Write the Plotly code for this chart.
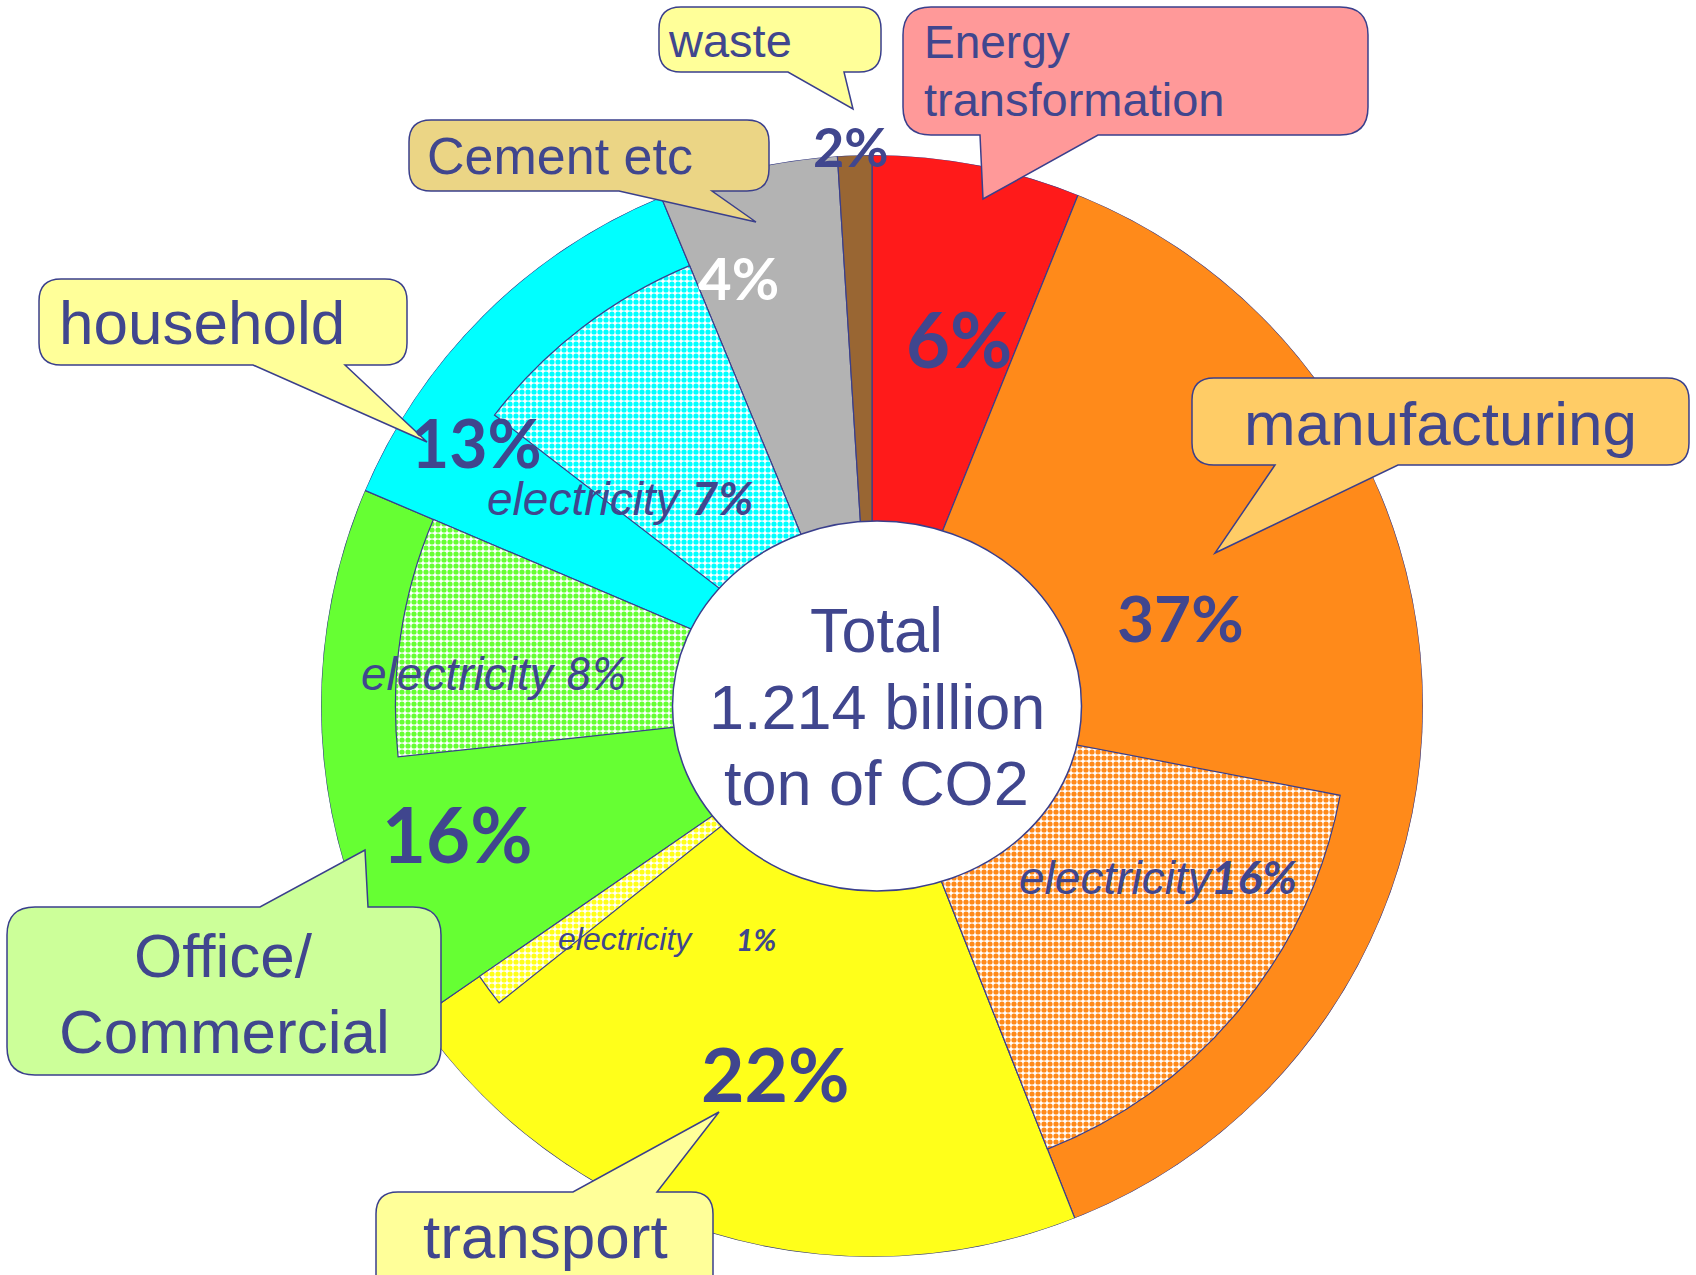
import numpy as np
import plotly.graph_objects as go

W, H = 1696, 1275

# ---------------- data ----------------
sectors = ["Energy transformation", "manufacturing", "transport",
           "Office/Commercial", "household", "Cement etc", "waste"]
share = [6.1, 37.9, 21.4, 16.0, 12.35, 5.25, 1.0]          # drawn share of each sector (%)
share_labels = ["6%", "37%", "22%", "16%", "13%", "4%", "2%"]

elec_parent = ["manufacturing", "transport", "Office/Commercial", "household"]
elec_share = [16.0, 1.1, 8.1, 8.3]                          # electricity part of the sector (%)
elec_labels = ["16%", "1%", "8%", "7%"]

total_lines = ["Total", "1.214 billion", "ton of CO2"]

# ---------------- styles ----------------
NAVY = "#40468E"
EDGE = "#3A3F8C"
colors = {
    "Energy transformation": "#FF1A1A",
    "manufacturing": "#FF8A1A",
    "transport": "#FFFF1A",
    "Office/Commercial": "#66FF33",
    "household": "#00FFFF",
    "Cement etc": "#B3B3B3",
    "waste": "#996633",
}
ELEC_R = 0.865
CX, CY, R = 872, 706, 551          # pie centre / radius in px

def px(x, y):
    return x / W, 1 - y / H

# ---------------- geometry from data ----------------
share_a = np.array(share)
ends = np.cumsum(share_a)
starts = ends - share_a
theta = (starts + ends) / 2 * 3.6
width = share_a * 3.6
end_of = dict(zip(sectors, ends))

fig = go.Figure()
fig.add_trace(go.Barpolar(
    r=[1.0] * len(sectors), theta=theta, width=width, base=0,
    marker=dict(color=[colors[s] for s in sectors], line=dict(color=EDGE, width=1.2)),
    hoverinfo="skip", showlegend=False))

for p, es in zip(elec_parent, elec_share):
    e = end_of[p]
    fig.add_trace(go.Barpolar(
        r=[ELEC_R], theta=[(e - es / 2) * 3.6], width=[es * 3.6], base=0,
        marker=dict(color="white",
                    pattern=dict(shape=".", fgcolor=colors[p], bgcolor="white",
                                 size=6, solidity=0.6, fillmode="replace"),
                    line=dict(color=EDGE, width=1.2)),
        hoverinfo="skip", showlegend=False))

x0, y1 = px(CX - R, CY - R)
x1, y0 = px(CX + R, CY + R)

fig.update_layout(
    width=W, height=H, margin=dict(l=0, r=0, t=0, b=0),
    paper_bgcolor="white", plot_bgcolor="white", showlegend=False,
    polar=dict(
        domain=dict(x=[x0, x1], y=[y0, y1]),
        bgcolor="rgba(0,0,0,0)", barmode="overlay",
        radialaxis=dict(visible=False, range=[0, 1]),
        angularaxis=dict(visible=False, rotation=90, direction="clockwise"),
    ),
)

# ---------------- centre ellipse ----------------
ex0, ey1 = px(877 - 204.5, 706 - 185)
ex1, ey0 = px(877 + 204.5, 706 + 185)
shapes = [dict(type="circle", xref="paper", yref="paper", x0=ex0, x1=ex1, y0=ey0, y1=ey1,
               fillcolor="white", line=dict(color=EDGE, width=1.5), layer="above")]

# ---------------- callout bubbles ----------------
def bubble(bx0, by0, bx1, by1, side, b0, b1, tip, fill, r=22):
    def P(x, y):
        X, Y = px(x, y)
        return f"{X:.5f},{Y:.5f}"
    d = f"M {P(bx0 + r, by0)}"
    if side == "top":
        d += f" L {P(b0, by0)} L {P(*tip)} L {P(b1, by0)}"
    d += f" L {P(bx1 - r, by0)} Q {P(bx1, by0)} {P(bx1, by0 + r)}"
    d += f" L {P(bx1, by1 - r)} Q {P(bx1, by1)} {P(bx1 - r, by1)}"
    if side == "bottom":
        d += f" L {P(b1, by1)} L {P(*tip)} L {P(b0, by1)}"
    d += f" L {P(bx0 + r, by1)} Q {P(bx0, by1)} {P(bx0, by1 - r)}"
    d += f" L {P(bx0, by0 + r)} Q {P(bx0, by0)} {P(bx0 + r, by0)} Z"
    return dict(type="path", xref="paper", yref="paper", path=d, fillcolor=fill,
                line=dict(color=EDGE, width=1.5), layer="above")

shapes += [
    bubble(659, 7, 881, 72, "bottom", 788, 844, (853, 109), "#FFFF99"),
    bubble(903, 7, 1368, 135, "bottom", 980, 1098, (983, 199), "#FF9999", r=28),
    bubble(409, 120, 769, 191, "bottom", 619, 712, (756, 222), "#EBD585"),
    bubble(39, 279, 407, 365, "bottom", 253, 345, (427, 442), "#FFFF99"),
    bubble(1192, 378, 1689, 465, "bottom", 1275, 1398, (1215, 553), "#FFCC66"),
    bubble(7, 907, 441, 1075, "top", 260, 368, (365, 850), "#CCFF99", r=28),
    bubble(376, 1192, 713, 1300, "top", 573, 657, (719, 1112), "#FFFF99"),
]

# ---------------- text ----------------
anns = []
def ann(text, x, y, size, color=NAVY, family="Liberation Sans", xanchor="center"):
    X, Y = px(x, y)
    anns.append(dict(text=text, x=X, y=Y, xref="paper", yref="paper", showarrow=False,
                     xanchor=xanchor, yanchor="middle",
                     font=dict(size=size, color=color, family=family)))

# bubble labels
ann("waste", 730, 40, 47)
ann("Energy", 922, 42, 46, xanchor="left")
ann("transformation", 922, 100, 47, xanchor="left")
ann("Cement etc", 560, 156, 52)
ann("household", 202, 322, 62)
ann("manufacturing", 1440, 424, 62)
ann("Office/", 223, 955, 62)
ann("Commercial", 224, 1031, 62)
ann("transport", 545, 1236, 62)

# sector shares
pct_pos = {"Energy transformation": (959, 338, 76), "manufacturing": (1180, 618, 64),
           "transport": (775, 1073, 75), "Office/Commercial": (457, 833, 76),
           "household": (476, 443, 66), "Cement etc": (738, 277, 58), "waste": (851, 147, 54)}
for s, lab in zip(sectors, share_labels):
    x, y, f = pct_pos[s]
    ann(f"<b>{lab}</b>", x, y, f, color="white" if s == "Cement etc" else NAVY, family="Lato")

# electricity labels
el = dict(zip(elec_parent, elec_labels))
PCT = '<span style="font-family:Lato">'
ann(f"<i>electricity{PCT}<b>{el['manufacturing']}</b></span></i>", 1158, 876, 46)
ann(f"<i>electricity {PCT}<b>{el['household']}</b></span></i>", 620, 497, 46)
ann(f"<i>electricity {PCT}{el['Office/Commercial']}</span></i>", 494, 672, 46)
ann("<i>electricity</i>", 625, 939, 32)
ann(f"<b><i>{el['transport']}</i></b>", 756, 939, 30, family="Lato")

# centre text
for line, y in zip(total_lines, [630, 707, 783]):
    ann(line, 877, y, 63)

fig.update_layout(shapes=shapes, annotations=anns)
fig.write_html("out.html", config={"displayModeBar": False},
               post_script="document.body.style.margin='0';document.body.style.overflow='hidden';")
